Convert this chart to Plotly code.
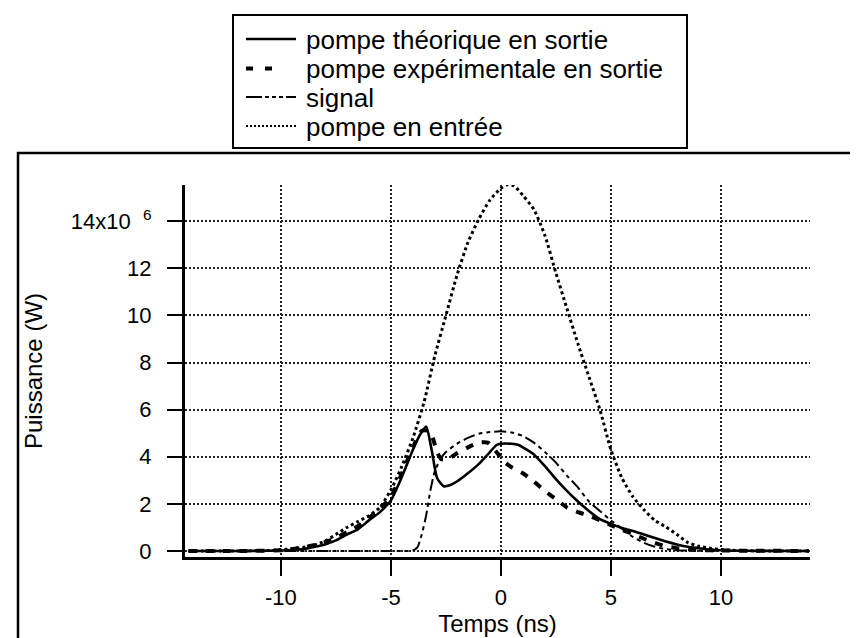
import plotly.graph_objects as go

# ---------------- data ----------------
x_theo = [-14.2, -12.0, -10.0, -9.5, -9.0, -8.5, -8.0, -7.5, -7.0, -6.5, -6.0, -5.5, -5.0, -4.5, -4.0,
          -3.7, -3.4, -3.15, -2.9, -2.6, -2.3, -2.0, -1.5, -1.0, -0.5, -0.2, 0.0, 0.5, 0.8, 1.0,
          1.5, 2.0, 2.5, 3.0, 3.5, 4.0, 4.5, 5.0, 5.5, 6.0, 6.5, 7.0, 7.5, 8.0, 8.5, 9.0, 9.5,
          10.0, 11.0, 14.0]
y_theo = [0.0, 0.0, 0.02, 0.04, 0.08, 0.17, 0.28, 0.45, 0.7, 0.92, 1.3, 1.65, 2.15, 3.15, 4.3,
          4.9, 5.28, 4.3, 3.1, 2.75, 2.8, 2.95, 3.3, 3.7, 4.2, 4.5, 4.55, 4.55, 4.5, 4.4,
          4.1, 3.6, 3.05, 2.55, 2.1, 1.7, 1.35, 1.15, 0.98, 0.85, 0.7, 0.55, 0.4, 0.28, 0.18, 0.12, 0.06,
          0.03, 0.01, 0.0]

x_exp = [-14.2, -12.0, -10.0, -9.5, -9.0, -8.5, -8.0, -7.5, -7.0, -6.5, -6.0, -5.5, -5.0, -4.5, -4.0,
         -3.6, -3.3, -3.1, -2.9, -2.7, -2.4, -2.0, -1.5, -1.0, -0.6, -0.2, 0.2, 0.5, 1.0, 1.5,
         2.0, 2.5, 3.0, 3.5, 4.0, 4.5, 5.0, 5.5, 6.0, 6.5, 7.0, 7.5, 8.0, 8.5, 9.0, 10.0, 14.0]
y_exp = [0.0, 0.0, 0.03, 0.08, 0.15, 0.25, 0.38, 0.55, 0.8, 1.05, 1.4, 1.8, 2.3, 3.3, 4.4,
         5.1, 5.1, 4.8, 4.2, 3.9, 3.9, 4.15, 4.4, 4.6, 4.6, 4.2, 3.75, 3.55, 3.3, 2.95,
         2.55, 2.2, 1.85, 1.65, 1.5, 1.3, 1.1, 0.9, 0.72, 0.52, 0.35, 0.2, 0.12, 0.07, 0.04, 0.02, 0.0]

x_signal = [-14.2, -10.0, -4.5, -4.0, -3.8, -3.6, -3.4, -3.2, -3.0, -2.75, -2.5, -2.0, -1.5, -1.0,
            -0.5, 0.0, 0.5, 1.0, 1.5, 2.0, 2.5, 3.0, 3.5, 4.0, 4.5, 5.0, 5.5, 6.0, 6.5, 7.0,
            7.5, 8.0, 9.0, 14.0]
y_signal = [0.0, 0.0, 0.0, 0.02, 0.15, 0.7, 1.5, 2.6, 3.4, 3.9, 4.2, 4.55, 4.8, 4.98,
            5.05, 5.08, 5.03, 4.88, 4.6, 4.2, 3.75, 3.2, 2.7, 2.1, 1.7, 1.3, 0.95, 0.6, 0.35, 0.18,
            0.08, 0.03, 0.01, 0.0]

x_in = [-14.2, -12.0, -10.5, -10.0, -9.5, -9.0, -8.5, -8.0, -7.5, -7.0, -6.5, -6.0, -5.5, -5.0,
        -4.5, -4.0, -3.5, -3.0, -2.5, -2.0, -1.5, -1.0, -0.5, 0.0, 0.3, 0.6, 1.0, 1.5, 2.0,
        2.5, 3.0, 3.5, 4.0, 4.5, 5.0, 5.5, 6.0, 6.5, 7.0, 7.5, 8.0, 8.5, 9.0, 9.5, 10.0,
        10.5, 11.0, 12.0, 14.0]
y_in = [0.0, 0.0, 0.02, 0.05, 0.1, 0.15, 0.25, 0.42, 0.7, 1.0, 1.25, 1.5, 1.85, 2.6,
        3.6, 4.8, 6.3, 8.3, 10.0, 11.7, 13.1, 14.1, 14.9, 15.4, 15.55, 15.5, 15.1, 14.5, 13.4,
        11.8, 10.3, 8.8, 7.4, 6.0, 4.3, 3.1, 2.3, 1.75, 1.3, 1.02, 0.7, 0.36, 0.2, 0.12, 0.06,
        0.03, 0.01, 0.0, 0.0]

series_names = ["pompe théorique en sortie", "pompe expérimentale en sortie",
                "signal", "pompe en entrée"]
x_ticks = [-10, -5, 0, 5, 10]
x_tick_labels = ["-10", "-5", "0", "5", "10"]
y_ticks = [0, 2, 4, 6, 8, 10, 12, 14]
y_tick_labels = ["0", "2", "4", "6", "8", "10", "12", "14x10\u00a0\u00a0<sup>6</sup>"]
x_title = "Temps (ns)"
y_title = "Puissance (W)"

# ---------------- layout helpers ----------------
W, H = 858, 638
L, R, T, B = 177, 802, 177, 549          # plot area in pixels


def px(xp):
    return (xp - L) / (R - L)


def py(yp):
    return (B - yp) / (B - T)


FONT = "Liberation Sans, Arial, Helvetica, sans-serif"

styles = [
    dict(color="black", width=2.6, dash="solid"),
    dict(color="black", width=4, dash="8px,9px"),
    dict(color="black", width=2, dash="12px,4px,4px,4px,4px,4px"),
    dict(color="black", width=3, dash="3px,3px"),
]
data_pairs = [(x_theo, y_theo), (x_exp, y_exp), (x_signal, y_signal), (x_in, y_in)]

fig = go.Figure()
for (xs, ys), name, st in zip(data_pairs, series_names, styles):
    fig.add_trace(go.Scatter(x=xs, y=ys, mode="lines", name=name,
                             line=dict(**st, shape="spline", smoothing=0.6), showlegend=False))

shapes = []
annotations = []

# outer frame
shapes.append(dict(type="rect", xref="paper", yref="paper", x0=px(10), x1=px(848), y0=py(637), y1=py(145),
                   line=dict(color="black", width=2.5), fillcolor="rgba(0,0,0,0)", layer="below"))
# legend box
shapes.append(dict(type="rect", xref="paper", yref="paper", x0=px(225), x1=px(679), y0=py(140), y1=py(7),
                   line=dict(color="black", width=2), fillcolor="white"))
rows = [31, 60.5, 89, 118]
sample_ends = [288, 265, 288, 288]
sample_styles = [
    dict(width=2.6, dash="solid"),
    dict(width=4, dash="7px,12px"),
    dict(width=2, dash="16px,3px,4px,3px,4px,3px,4px,3px"),
    dict(width=2, dash="2px,2px"),
]
for r, name, end, sst in zip(rows, series_names, sample_ends, sample_styles):
    shapes.append(dict(type="line", xref="paper", yref="paper", x0=px(238), x1=px(end), y0=py(r), y1=py(r),
                       line=dict(color="black", **sst)))
    annotations.append(dict(text=name, xref="paper", yref="paper", x=px(296), y=py(r + 1), xanchor="left",
                            yanchor="middle", showarrow=False, font=dict(family=FONT, size=26, color="black")))

fig.update_layout(
    width=W, height=H,
    margin=dict(l=L, r=W - R, t=T, b=H - B, autoexpand=False),
    paper_bgcolor="white", plot_bgcolor="white",
    showlegend=False,
    font=dict(family=FONT, color="black"),
    shapes=shapes, annotations=annotations,
)

fig.update_xaxes(
    range=[-14.36, 14.05], tickvals=x_ticks, ticktext=x_tick_labels,
    showline=True, linecolor="black", linewidth=3, mirror=False,
    ticks="outside", ticklen=16, tickwidth=2, tickcolor="black",
    tickfont=dict(family=FONT, size=22, color="black"), ticklabelstandoff=3,
    showgrid=True, gridcolor="#222", gridwidth=1.5, griddash="2px,2px",
    zeroline=False,
    title=dict(text=x_title, font=dict(family=FONT, size=24, color="black"), standoff=4),
)
fig.update_yaxes(
    range=[-0.255, 15.54], tickvals=y_ticks, ticktext=y_tick_labels,
    showline=True, linecolor="black", linewidth=3, mirror=False,
    ticks="outside", ticklen=15, tickwidth=2, tickcolor="black",
    tickfont=dict(family=FONT, size=22, color="black"), ticklabelstandoff=11,
    showgrid=True, gridcolor="#222", gridwidth=1.5, griddash="2px,2px",
    zeroline=False,
    title=dict(text=y_title, font=dict(family=FONT, size=24, color="black"), standoff=22),
)

fig.write_html("out.html")
